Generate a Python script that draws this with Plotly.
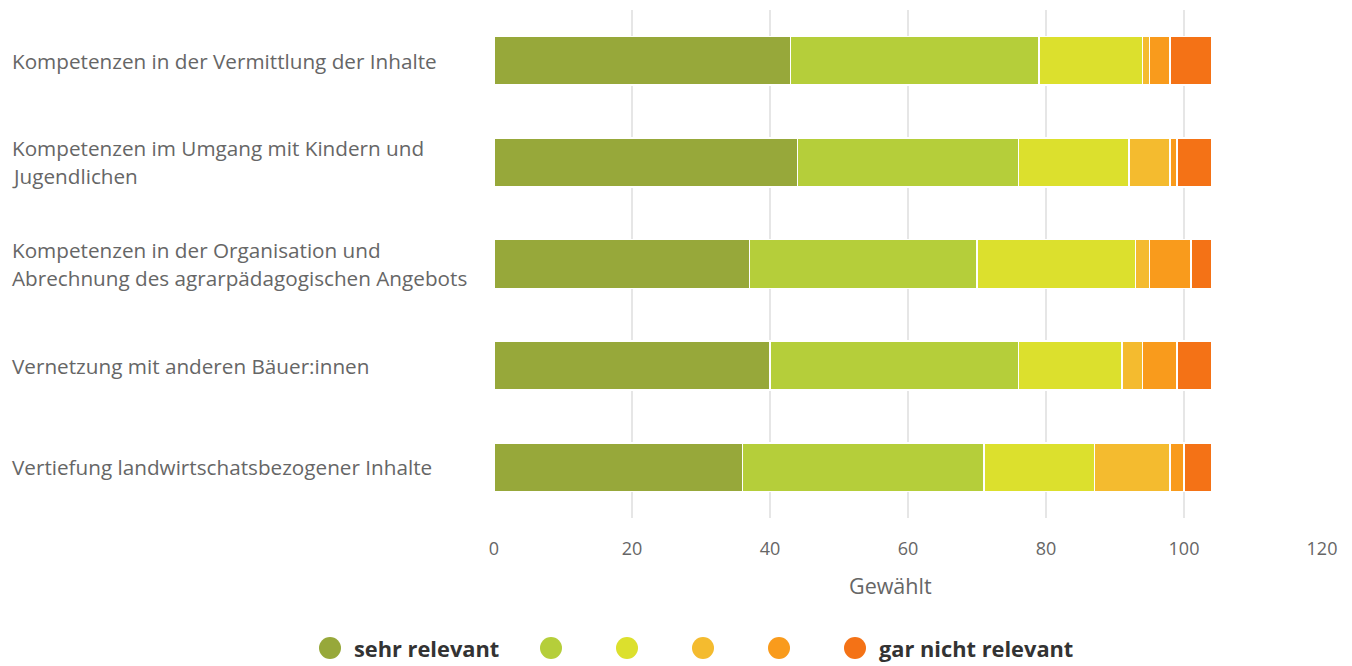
import plotly.graph_objects as go

categories = [
    "Kompetenzen in der Vermittlung der Inhalte",
    "Kompetenzen im Umgang mit Kindern und<br>Jugendlichen",
    "Kompetenzen in der Organisation und<br>Abrechnung des agrarpädagogischen Angebots",
    "Vernetzung mit anderen Bäuer:innen",
    "Vertiefung landwirtschatsbezogener Inhalte",
]
series_names = ["sehr relevant", "", "", "", "", "gar nicht relevant"]
series_values = [
    [43, 44, 37, 40, 36],
    [36, 32, 33, 36, 35],
    [15, 16, 23, 15, 16],
    [1, 6, 2, 3, 11],
    [3, 1, 6, 5, 2],
    [6, 5, 3, 5, 4],
]
colors = ["#97a83a", "#b5ce3a", "#dce02d", "#f4bb2f", "#f99b1c", "#f47216"]
x_ticks = [0, 20, 40, 60, 80, 100, 120]
axis_title = "Gewählt"

OFF = 8  # page body margin
W, H = 1344, 658
ML, MR, MT, MB = 494 - OFF, 30, 2, 148
PW = W - ML - MR
PH = H - MT - MB


def px_to_paper_x(px):
    return (px - OFF - ML) / PW


def px_to_paper_y(py):
    return (MT + PH - (py - OFF)) / PH


fig = go.Figure()
for name, vals, col in zip(series_names, series_values, colors):
    fig.add_trace(go.Bar(
        y=list(range(len(categories))), x=vals, orientation="h", name=name,
        marker=dict(color=col, line=dict(color="white", width=1.5)),
        width=0.48, showlegend=False,
        hovertemplate="%{x}<extra></extra>",
    ))

annotations = []
label_font = dict(family="Open Sans", size=20.7, color="#666666")
for i, cat in enumerate(categories):
    lines = cat.split("<br>")
    n = len(lines)
    for j, line in enumerate(lines):
        shift = ((n - 1) / 2 - j) * 28
        annotations.append(dict(
            text=line, xref="paper", yref="y", x=px_to_paper_x(9.6), y=i,
            xanchor="left", yanchor="middle", showarrow=False, yshift=shift,
            font=label_font, align="left",
        ))

annotations.append(dict(
    text=axis_title, xref="paper", yref="paper", x=px_to_paper_x(890),
    y=px_to_paper_y(585), xanchor="center", yanchor="middle",
    showarrow=False, font=dict(family="Open Sans", size=21.5, color="#666666"),
))

# legend (circles + labels)
shapes = []
legend_x = [330, 551, 627, 703, 779, 855]
legend_y = px_to_paper_y(648)
for cx, col, name in zip(legend_x, colors, series_names):
    shapes.append(dict(
        type="circle", xref="paper", yref="paper",
        xsizemode="pixel", ysizemode="pixel",
        xanchor=px_to_paper_x(cx), yanchor=legend_y,
        x0=-11, x1=11, y0=-11, y1=11,
        fillcolor=col, line=dict(width=0),
    ))
    if name:
        annotations.append(dict(
            text="<b>" + name + "</b>", xref="paper", yref="paper",
            x=px_to_paper_x(cx + 22), y=legend_y, xanchor="left", yanchor="middle",
            showarrow=False, font=dict(family="Open Sans", size=21.8, color="#333333"),
        ))

fig.update_layout(
    width=W, height=H, barmode="stack",
    margin=dict(l=ML, r=MR, t=MT, b=MB),
    plot_bgcolor="white", paper_bgcolor="white",
    showlegend=False,
    xaxis=dict(range=[0, 120], tickvals=x_ticks, showgrid=True,
               gridcolor="#e6e6e6", gridwidth=2, zeroline=False,
               showline=False, ticks="", ticklabelstandoff=18,
               tickfont=dict(family="Open Sans", size=18, color="#666666")),
    yaxis=dict(range=[4.5, -0.5], showticklabels=False, showgrid=False,
               zeroline=False, showline=False),
    annotations=annotations, shapes=shapes,
)
fig.write_html("out.html")
